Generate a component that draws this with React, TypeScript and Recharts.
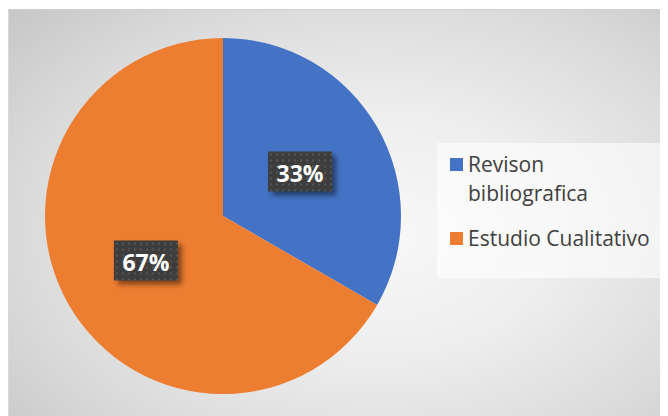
import React from "react";
import { PieChart, Pie, Cell, Legend } from "recharts";

const categories = ["Revison bibliografica", "Estudio Cualitativo"];
const values = [1, 2];
const colors = ["#4472C4", "#ED7D31"];

const data = categories.map((name, i) => ({ name, value: values[i] }));

const RAD = Math.PI / 180;

const renderLabel = (props: any) => {
  const { cx, cy, midAngle, outerRadius, percent, index } = props;
  const r = outerRadius * 0.5;
  const x = cx + r * Math.cos(-midAngle * RAD);
  const y = cy + r * Math.sin(-midAngle * RAD);
  const w = 64;
  const h = 40;
  const pid = `dots-${index}`;
  const fid = `blur-${index}`;
  return (
    <g>
      <defs>
        <pattern id={pid} x={x - w / 2} y={y - h / 2} width={6} height={6} patternUnits="userSpaceOnUse">
          <rect x={0} y={0} width={6} height={6} fill="#3d3d3d" />
          <rect x={2} y={2} width={2} height={2} fill="#565656" />
        </pattern>
        <filter id={fid} x="-30%" y="-30%" width="160%" height="160%">
          <feGaussianBlur stdDeviation={2.5} />
        </filter>
      </defs>
      <rect x={x - w / 2 + 4} y={y - h / 2 + 4} width={w} height={h} fill="rgba(0,0,0,0.45)" filter={`url(#${fid})`} />
      <rect x={x - w / 2} y={y - h / 2} width={w} height={h} fill={`url(#${pid})`} />
      <text
        x={x}
        y={y + 1}
        textAnchor="middle"
        dominantBaseline="central"
        fill="#ffffff"
        fontFamily="'Open Sans', sans-serif"
        fontWeight={700}
        fontSize={23}
      >
        {`${Math.round(percent * 100)}%`}
      </text>
    </g>
  );
};

const renderLegend = () => (
  <div
    style={{
      width: 225,
      height: 135,
      background: "rgba(255,255,255,0.6)",
      boxSizing: "border-box",
      paddingLeft: 13,
      paddingTop: 7,
      fontFamily: "'Open Sans', sans-serif",
      fontSize: 21,
      lineHeight: "29px",
      color: "#404040",
      textAlign: "left",
    }}
  >
    {data.map((d, i) => (
      <div key={d.name} style={{ display: "flex", alignItems: "flex-start", marginBottom: 16 }}>
        <div style={{ width: 13, height: 13, background: colors[i], marginTop: 8, marginRight: 5, flexShrink: 0 }} />
        <div style={{ width: 190 }}>{d.name}</div>
      </div>
    ))}
  </div>
);

export default function App() {
  return (
    <div
      style={{
        width: 660,
        height: 407,
        marginTop: 1,
        position: "relative",
        background:
          "radial-gradient(ellipse 78% 85% at 56% 55%, #f8f8f8 0%, #eeeeee 35%, #dadada 70%, #c4c4c4 100%)",
        borderTop: "1px solid #d0d0d0",
        borderLeft: "1px solid #d8d8d8",
        boxSizing: "border-box",
      }}
    >
      <PieChart width={659} height={406} margin={{ top: 0, right: 0, bottom: 0, left: 0 }}>
        <Pie
          data={data}
          dataKey="value"
          nameKey="name"
          cx={214}
          cy={206}
          outerRadius={178}
          startAngle={90}
          endAngle={-270}
          stroke="none"
          label={renderLabel}
          labelLine={false}
          isAnimationActive={false}
        >
          {data.map((d, i) => (
            <Cell key={d.name} fill={colors[i]} />
          ))}
        </Pie>
        <Legend
          layout="vertical"
          verticalAlign="middle"
          align="right"
          content={renderLegend}
          wrapperStyle={{ position: "absolute", left: 428, top: 133, width: 225, height: 135 }}
        />
      </PieChart>
    </div>
  );
}
